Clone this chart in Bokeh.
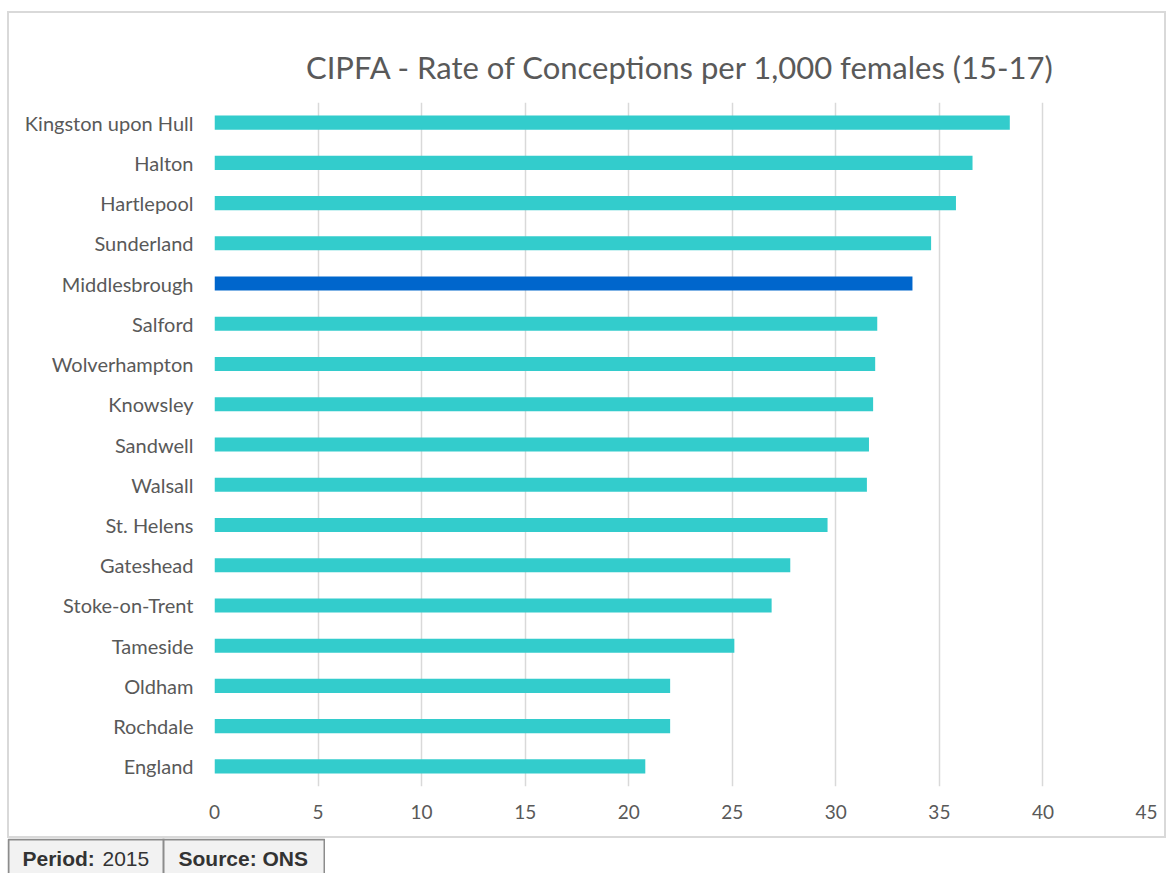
from bokeh.plotting import figure
from bokeh.layouts import column
from bokeh.models import FactorRange, Range1d, ColumnDataSource, FixedTicker, Title
from bokeh.core.properties import value
from bokeh.embed import file_html
from bokeh.resources import INLINE

categories = ["Kingston upon Hull", "Halton", "Hartlepool", "Sunderland", "Middlesbrough",
              "Salford", "Wolverhampton", "Knowsley", "Sandwell", "Walsall", "St. Helens",
              "Gateshead", "Stoke-on-Trent", "Tameside", "Oldham", "Rochdale", "England"]
values = [38.4, 36.6, 35.8, 34.6, 33.7, 32.0, 31.9, 31.8, 31.6, 31.5, 29.6,
          27.8, 26.9, 25.1, 22.0, 22.0, 20.8]
highlight = "Middlesbrough"
x_ticks = [0, 5, 10, 15, 20, 25, 30, 35, 40, 45]
title_text = "CIPFA - Rate of Conceptions per 1,000 females (15-17)"
footer_labels = ["Period:", "2015", "Source: ONS"]

TEAL = "#33CCCC"
BLUE = "#0066CC"
colors = [BLUE if c == highlight else TEAL for c in categories]

# main chart canvas sits inside a 2px light border (page x 9..1168, y 13..840)
CW, CH = 1159, 827
p = figure(width=CW, height=CH, output_backend="svg", toolbar_location=None,
           y_range=FactorRange(factors=list(reversed(categories)), range_padding=0),
           x_range=Range1d(0, 45),
           min_border_left=205, min_border_right=22, min_border_top=89, min_border_bottom=54,
           margin=(11, 0, 0, 7),
           styles={"border": "2px solid #d9d9d9"})
p.frame_align = False
p.title = Title(text=title_text, align="center", text_font="Lato", text_font_size="31px",
                text_font_style="normal", text_color="#595959", standoff=33)
p.outline_line_color = None
p.background_fill_color = "white"
p.border_fill_color = "white"

src = ColumnDataSource(dict(cat=categories, val=values, color=colors))
p.hbar(y="cat", right="val", left=0, height=0.35, source=src, fill_color="color",
       line_color=None)

p.xaxis.ticker = FixedTicker(ticks=x_ticks)
p.xaxis.axis_line_color = None
p.xaxis.major_tick_line_color = None
p.xaxis.minor_tick_line_color = None
p.xaxis.major_label_text_font = "Lato"
p.xaxis.major_label_text_font_size = "19px"
p.xaxis.major_label_text_color = "#595959"
p.xaxis.major_label_standoff = 12

p.yaxis.axis_line_color = None
p.yaxis.major_tick_line_color = None
p.yaxis.major_label_text_font = "Lato"
p.yaxis.major_label_text_font_size = "20px"
p.yaxis.major_label_text_color = "#595959"
p.yaxis.major_label_standoff = 15

p.xgrid.grid_line_color = "#d9d9d9"
p.xgrid.grid_line_width = 1.5
p.ygrid.grid_line_color = None

# footer "Period / Source" box
FW, FH = 318, 35
f = figure(width=FW, height=FH, output_backend="svg", toolbar_location=None,
           x_range=Range1d(0, FW), y_range=Range1d(FH, 0),
           min_border=0, min_border_left=0, min_border_right=0, min_border_top=0,
           min_border_bottom=0, margin=(0, 0, 0, 7))
f.frame_align = False
f.axis.visible = False
f.grid.visible = False
f.outline_line_color = None
f.border_fill_color = "white"
f.background_fill_color = "white"
f.quad(left=[1], right=[317], top=[1], bottom=[45], fill_color="#f2f2f2",
       line_color="#8c8c8c", line_width=2)
f.segment(x0=[156], x1=[156], y0=[0], y1=[45], line_color="#8c8c8c", line_width=2)
FONT = value("Liberation Sans")
f.text(x=[15], y=[20], text=[footer_labels[0]], text_font=FONT,
       text_font_style="bold", text_font_size="21px", text_color="#333333",
       text_baseline="middle")
f.text(x=[95], y=[20], text=[footer_labels[1]], text_font=FONT,
       text_font_size="21px", text_color="#333333", text_baseline="middle")
f.text(x=[171], y=[20], text=[footer_labels[2]], text_font=FONT,
       text_font_style="bold", text_font_size="21px", text_color="#333333",
       text_baseline="middle")

layout = column(p, f, spacing=0)
open("out.html", "w").write(file_html(layout, INLINE))
